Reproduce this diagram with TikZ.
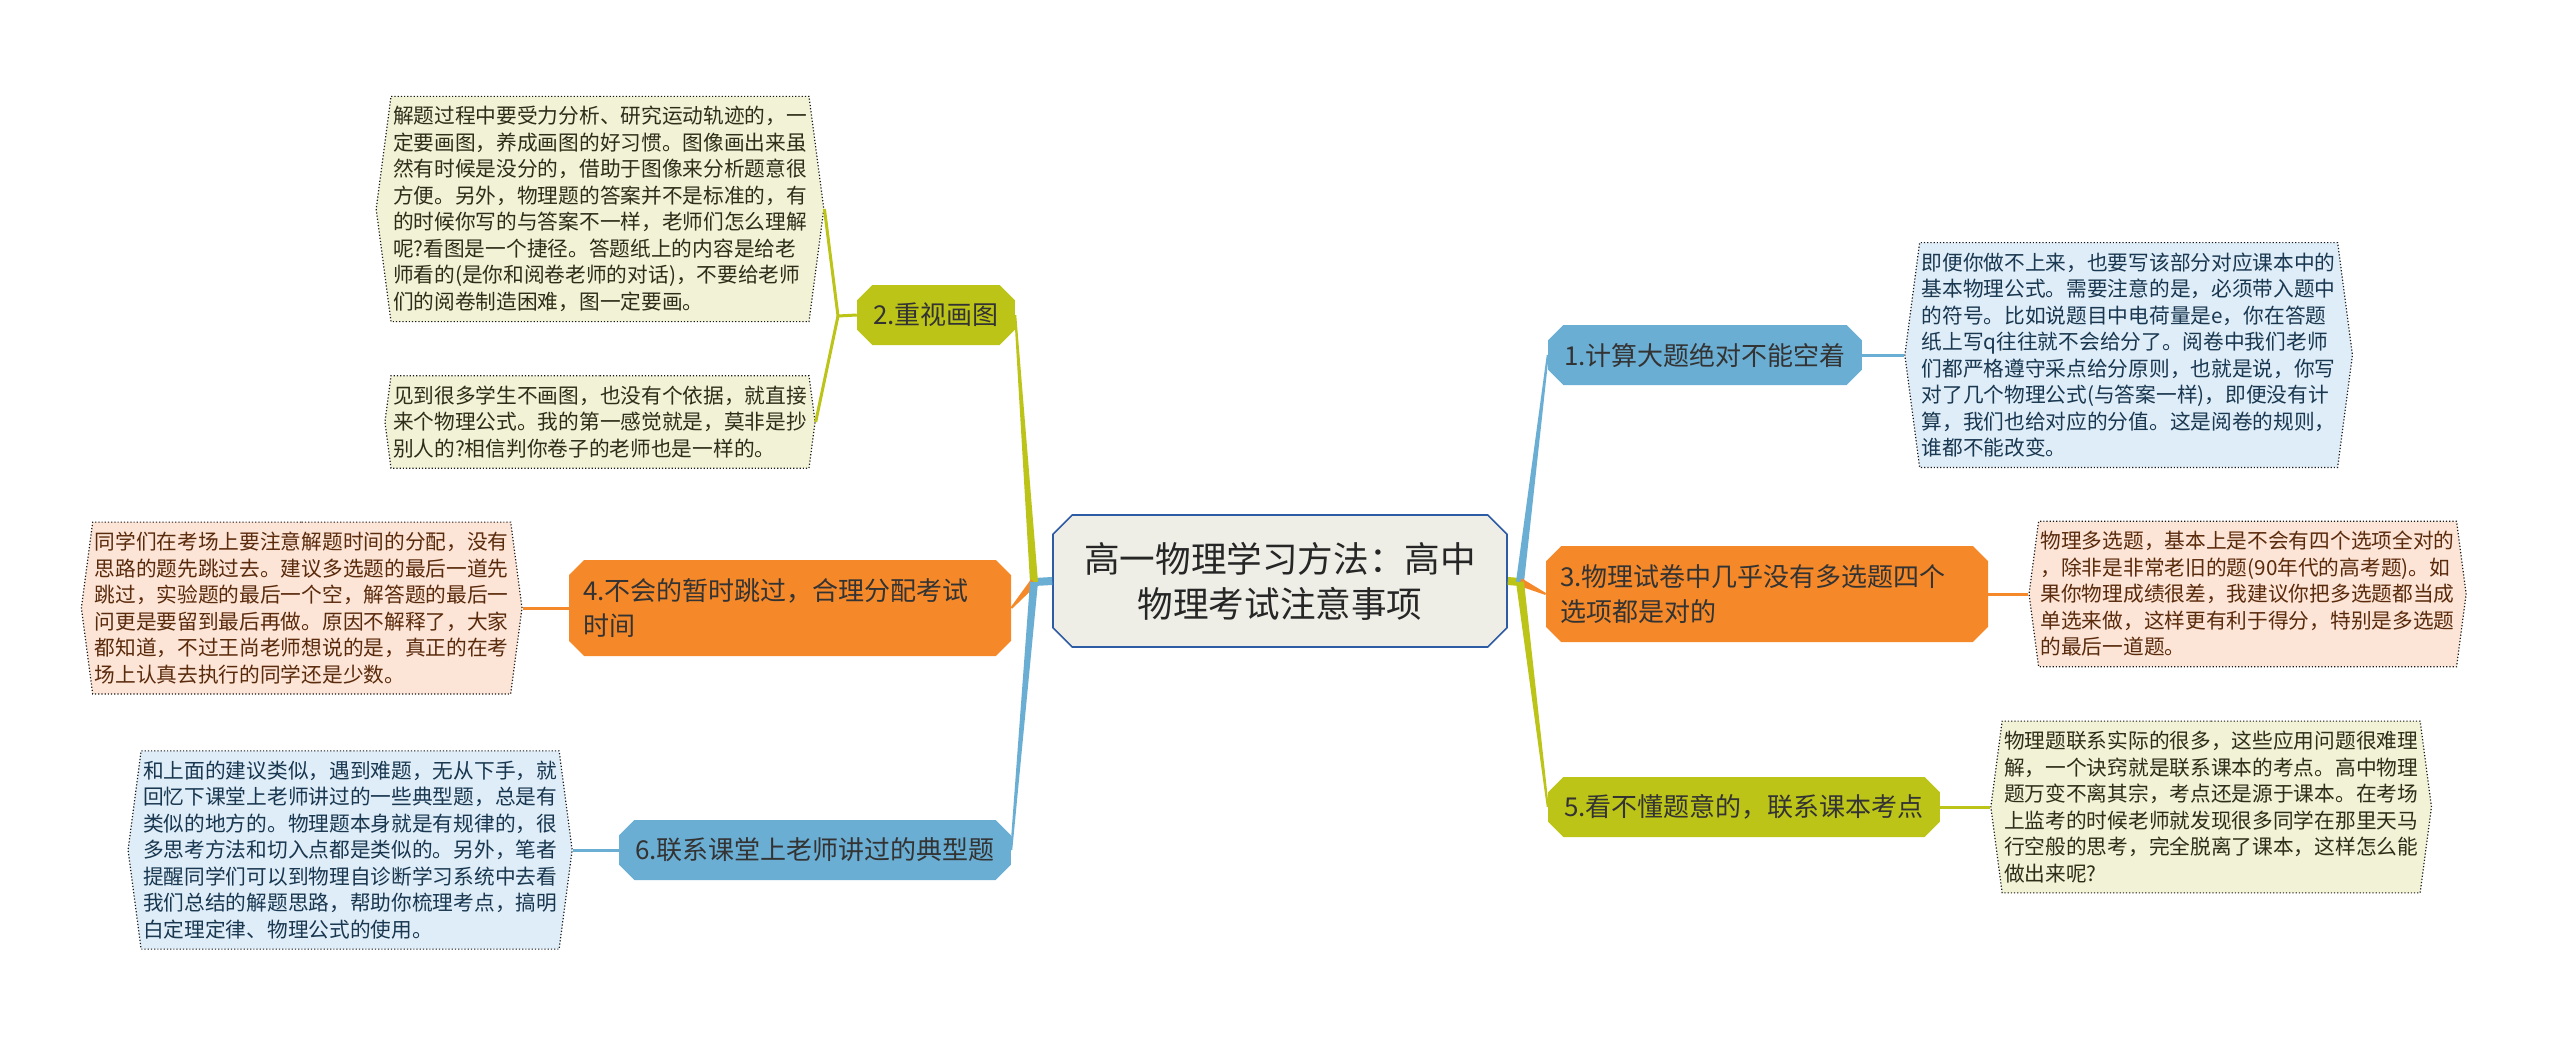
\documentclass[tikz,border=0pt]{standalone}
\usepackage{fontspec}
\setmainfont{Noto Sans CJK SC}
\usetikzlibrary{positioning,calc,shapes.misc,shapes.symbols}
\definecolor{zhutibian}{RGB}{46,92,164}
\definecolor{zhutidi}{RGB}{238,238,230}
\definecolor{lan}{RGB}{107,174,212}
\definecolor{cheng}{RGB}{245,137,42}
\definecolor{lv}{RGB}{188,196,24}
\definecolor{qianlan}{RGB}{222,237,247}
\definecolor{qiancheng}{RGB}{252,229,214}
\definecolor{qianlv}{RGB}{242,242,214}
\definecolor{lanzi}{RGB}{25,55,80}
\definecolor{chengzi}{RGB}{90,42,12}
\definecolor{lvzi}{RGB}{45,45,25}

\begin{document}
\begin{tikzpicture}[x=0.5pt,y=-0.5pt,
    zhuti/.style={chamfered rectangle,chamfered rectangle xsep=6pt,draw=zhutibian,line width=0.8pt,fill=zhutidi,
                  minimum width=227pt,minimum height=66pt,align=center,text=black!85,
                  font=\fontsize{17.8pt}{22.5pt}\selectfont},
    fenzhi/.style={chamfered rectangle,chamfered rectangle xsep=4pt,fill=#1,inner xsep=4pt,minimum height=30pt,
                   text=black!80,font=\fontsize{13pt}{17.5pt}\selectfont},
    liangxing/.style={text width=207pt,align=left,inner xsep=3pt,minimum height=48pt},
    yezi/.style={signal,signal to=east and west,signal pointer angle=165,draw=black!90,densely dotted,
                 line width=0.6pt,fill=#1,align=left,inner xsep=1pt,inner ysep=5pt,
                 font=\fontsize{10.35pt}{13.25pt}\selectfont},
    lianxian/.style={line width=1.5pt,#1}]
  \fill[white] (0,0) rectangle (2560,1044);
  \useasboundingbox (0,0) rectangle (2560,1044);

  \node[zhuti] (zx) at (1280,581) {高一物理学习方法：高中\\物理考试注意事项};
  \node[fenzhi=lan] (b1) at (1705,355) {1.计算大题绝对不能空着};
  \node[fenzhi=lv] (b2) at (936,315) {2.重视画图};
  \node[fenzhi=cheng,liangxing] (b3) at (1767,594) {3.物理试卷中几乎没有多选题四个\\选项都是对的};
  \node[fenzhi=cheng,liangxing] (b4) at (790,608) {4.不会的暂时跳过，合理分配考试\\时间};
  \node[fenzhi=lv] (b5) at (1744,807) {5.看不懂题意的，联系课本考点};
  \node[fenzhi=lan] (b6) at (815,850) {6.联系课堂上老师讲过的典型题};

  \node[yezi=qianlan,text=lanzi,right=21pt of b1] (y1) {即便你做不上来，也要写该部分对应课本中的\\
    基本物理公式。需要注意的是，必须带入题中\\
    的符号。比如说题目中电荷量是e，你在答题\\
    纸上写q往往就不会给分了。阅卷中我们老师\\
    们都严格遵守采点给分原则，也就是说，你写\\
    对了几个物理公式(与答案一样)，即便没有计\\
    算，我们也给对应的分值。这是阅卷的规则，\\
    谁都不能改变。};
  \node[yezi=qianlv,text=lvzi] (y2a) at (600,209) {解题过程中要受力分析、研究运动轨迹的，一\\
    定要画图，养成画图的好习惯。图像画出来虽\\
    然有时候是没分的，借助于图像来分析题意很\\
    方便。另外，物理题的答案并不是标准的，有\\
    的时候你写的与答案不一样，老师们怎么理解\\
    呢?看图是一个捷径。答题纸上的内容是给老\\
    师看的(是你和阅卷老师的对话)，不要给老师\\
    们的阅卷制造困难，图一定要画。};
  \node[yezi=qianlv,text=lvzi] (y2b) at (600,422) {见到很多学生不画图，也没有个依据，就直接\\
    来个物理公式。我的第一感觉就是，莫非是抄\\
    别人的?相信判你卷子的老师也是一样的。};
  \node[yezi=qiancheng,text=chengzi,right=20pt of b3] (y3) {物理多选题，基本上是不会有四个选项全对的\\
    ，除非是非常老旧的题(90年代的高考题)。如\\
    果你物理成绩很差，我建议你把多选题都当成\\
    单选来做，这样更有利于得分，特别是多选题\\
    的最后一道题。};
  \node[yezi=qiancheng,text=chengzi,left=23pt of b4] (y4) {同学们在考场上要注意解题时间的分配，没有\\
    思路的题先跳过去。建议多选题的最后一道先\\
    跳过，实验题的最后一个空，解答题的最后一\\
    问更是要留到最后再做。原因不解释了，大家\\
    都知道，不过王尚老师想说的是，真正的在考\\
    场上认真去执行的同学还是少数。};
  \node[yezi=qianlv,text=lvzi,right=25pt of b5] (y5) {物理题联系实际的很多，这些应用问题很难理\\
    解，一个诀窍就是联系课本的考点。高中物理\\
    题万变不离其宗，考点还是源于课本。在考场\\
    上监考的时候老师就发现很多同学在那里天马\\
    行空般的思考，完全脱离了课本，这样怎么能\\
    做出来呢?};
  \node[yezi=qianlan,text=lanzi,left=23pt of b6] (y6) {和上面的建议类似，遇到难题，无从下手，就\\
    回忆下课堂上老师讲过的一些典型题，总是有\\
    类似的地方的。物理题本身就是有规律的，很\\
    多思考方法和切入点都是类似的。另外，笔者\\
    提醒同学们可以到物理自诊断学习系统中去看\\
    我们总结的解题思路，帮助你梳理考点，搞明\\
    白定理定律、物理公式的使用。};

  % main branches
  \coordinate (gz) at (1034,582);
  \coordinate (gy) at (1520,582);
  \draw[lan,line width=4pt] (zx.west) -- (gz);
  \draw[lv,line width=4pt] (zx.east) -- (gy);
  \foreach \n/\c in {b2/lv,b4/cheng,b6/lan}
    \fill[\c] ($(gz)!2pt!90:(\n.east)$) -- ($(\n.east)!0.5pt!-90:(gz)$) -- ($(\n.east)!0.5pt!90:(gz)$)
      -- ($(gz)!2pt!-90:(\n.east)$) -- cycle;
  \foreach \n/\c in {b1/lan,b3/cheng,b5/lv}
    \fill[\c] ($(gy)!2pt!90:(\n.west)$) -- ($(\n.west)!0.5pt!-90:(gy)$) -- ($(\n.west)!0.5pt!90:(gy)$)
      -- ($(gy)!2pt!-90:(\n.west)$) -- cycle;

  % leaves
  \coordinate (f2) at (838,316);
  \draw[lianxian=lv] (b2.west) -- (f2) -- (y2a.east);
  \draw[lianxian=lv] (f2) -- (y2b.east);
  \draw[lianxian=cheng] (b4.west) -- (y4.east);
  \draw[lianxian=lan] (b6.west) -- (y6.east);
  \draw[lianxian=lan] (b1.east) -- (y1.west);
  \draw[lianxian=cheng] (b3.east) -- (y3.west);
  \draw[lianxian=lv] (b5.east) -- (y5.west);
\end{tikzpicture}
\end{document}
